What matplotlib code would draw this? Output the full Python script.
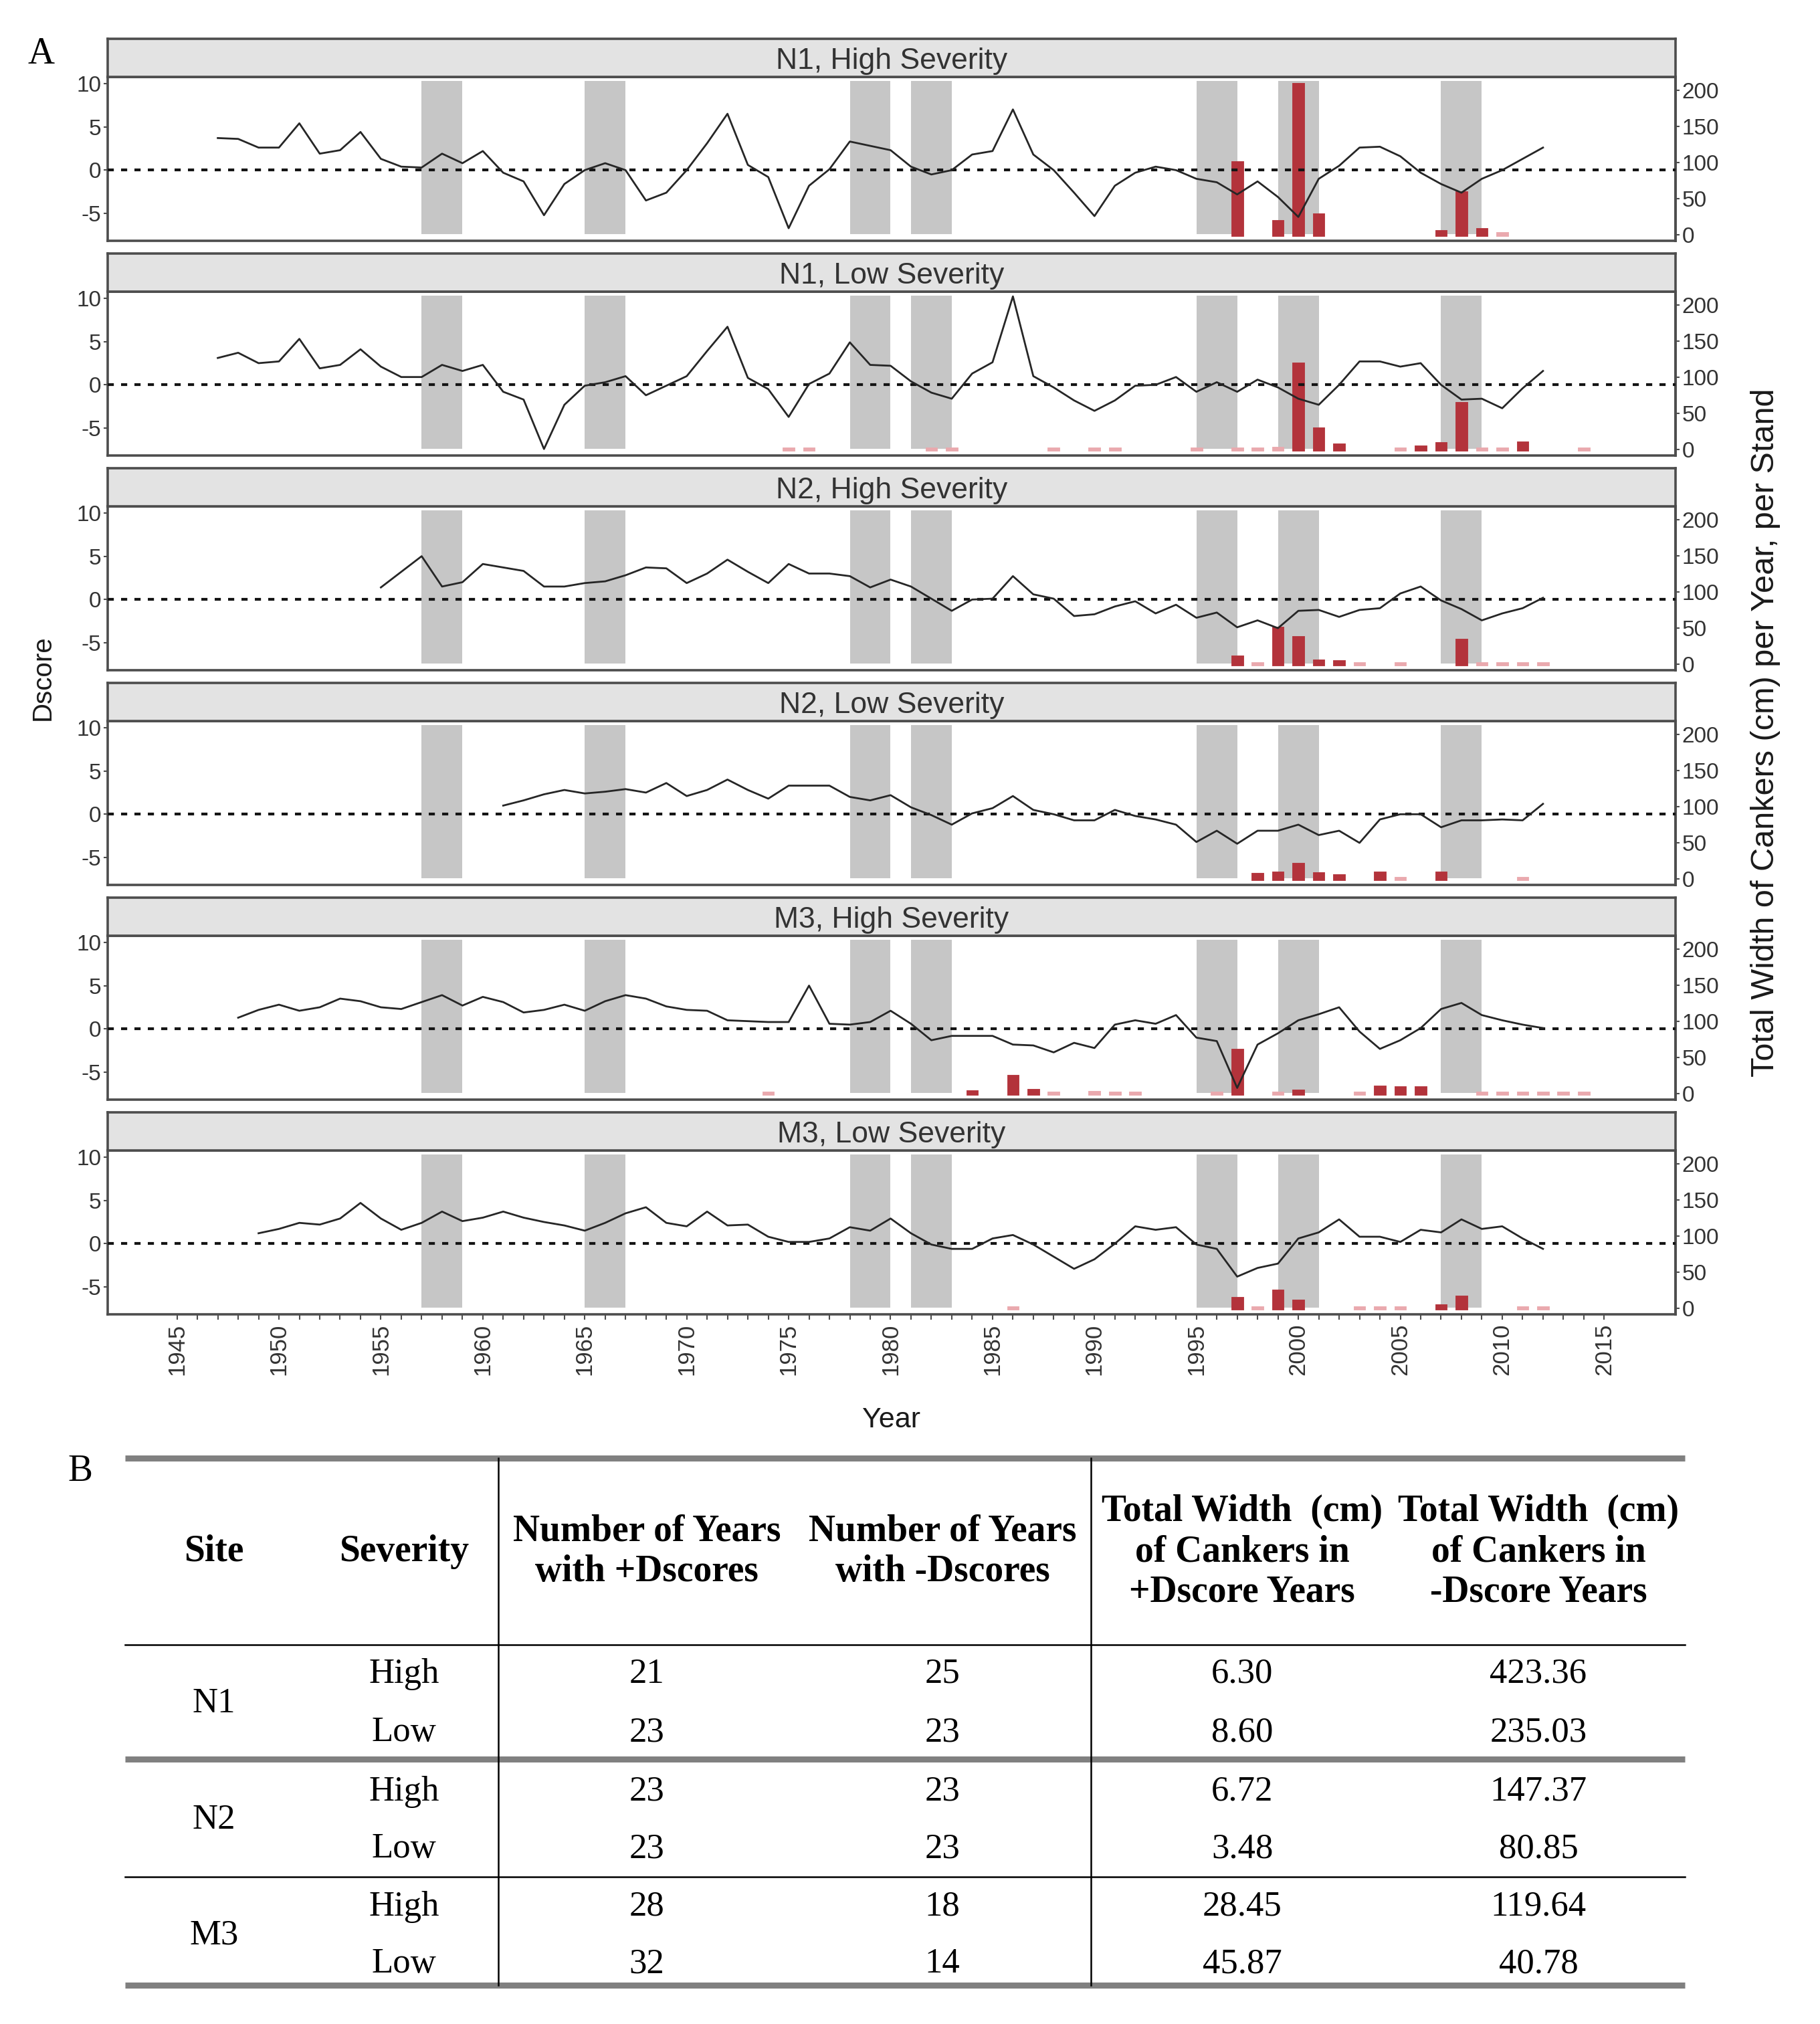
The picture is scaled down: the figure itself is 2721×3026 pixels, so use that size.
import numpy as np
import matplotlib
matplotlib.use("Agg")
import matplotlib.pyplot as plt

W, H = 2721, 3026
DPI = 100

# ---- Dscore series (one value per year, from the start year) ----
N1H_START = 1947
N1H_D = [3.7, 3.6, 2.6, 2.6, 5.4, 1.9, 2.3, 4.4, 1.3, 0.4, 0.3, 1.9, 0.8, 2.2,
         -0.3, -1.3, -5.2, -1.6, 0.0, 0.8, 0.0, -3.5, -2.6, 0.0, 3.1, 6.5, 0.6,
         -0.8, -6.7, -1.8, 0.1, 3.3, 2.8, 2.3, 0.4, -0.5, 0.0, 1.8, 2.2, 7.0, 1.8,
         0.0, -2.6, -5.3, -1.8, -0.3, 0.4, 0.0, -1.0, -1.4, -2.8, -1.3, -3.1, -5.4,
         -1.0, 0.5, 2.6, 2.7, 1.6, -0.3, -1.6, -2.6, -1.0, 0.0, 1.3, 2.6]

N1L_START = 1947
N1L_D = [3.1, 3.7, 2.5, 2.7, 5.3, 1.9, 2.3, 4.1, 2.1, 0.9, 0.9, 2.3, 1.6, 2.3,
         -0.8, -1.7, -7.4, -2.3, -0.1, 0.3, 1.0, -1.2, -0.1, 1.0, 3.9, 6.7, 0.8,
         -0.5, -3.7, 0.1, 1.3, 4.9, 2.3, 2.2, 0.4, -0.9, -1.6, 1.3, 2.6, 10.2, 1.0,
         -0.3, -1.8, -3.0, -1.8, -0.1, 0.0, 0.9, -0.8, 0.3, -0.8, 0.6, -0.3, -1.6,
         -2.3, 0.0, 2.7, 2.7, 2.1, 2.5, 0.0, -1.7, -1.6, -2.7, -0.4, 1.6]

N2H_START = 1955
N2H_D = [1.4, 3.2, 5.0, 1.5, 2.0, 4.1, 3.7, 3.3, 1.5, 1.5, 1.9, 2.1, 2.8, 3.7,
         3.6, 1.9, 3.0, 4.6, 3.2, 1.9, 4.1, 3.0, 3.0, 2.7, 1.4, 2.3, 1.5, 0.1,
         -1.3, 0.0, 0.1, 2.7, 0.6, 0.1, -1.9, -1.7, -0.8, -0.2, -1.6, -0.6, -2.1,
         -1.5, -3.2, -2.4, -3.3, -1.3, -1.2, -2.0, -1.2, -1.0, 0.7, 1.5, -0.1,
         -1.1, -2.4, -1.6, -1.0, 0.2]

N2L_START = 1961
N2L_D = [1.0, 1.6, 2.3, 2.8, 2.4, 2.6, 2.9, 2.5, 3.6, 2.1, 2.8, 4.0, 2.8, 1.8,
         3.3, 3.3, 3.3, 2.0, 1.6, 2.2, 0.8, -0.1, -1.2, 0.1, 0.7, 2.1, 0.5, 0.0,
         -0.7, -0.7, 0.5, -0.2, -0.6, -1.2, -3.2, -1.9, -3.4, -1.9, -1.9, -1.2,
         -2.4, -1.9, -3.3, -0.6, 0.0, 0.0, -1.5, -0.7, -0.7, -0.6, -0.7, 1.2]

M3H_START = 1948
M3H_D = [1.3, 2.2, 2.8, 2.1, 2.5, 3.5, 3.2, 2.5, 2.3, 3.1, 3.9, 2.7, 3.7, 3.1,
         1.9, 2.2, 2.8, 2.1, 3.2, 3.9, 3.5, 2.6, 2.2, 2.1, 1.0, 0.9, 0.8, 0.8,
         5.0, 0.6, 0.5, 0.8, 2.1, 0.6, -1.3, -0.8, -0.8, -0.8, -1.8, -1.9, -2.7,
         -1.6, -2.2, 0.5, 1.0, 0.6, 1.6, -1.0, -1.4, -6.8, -1.8, -0.5, 1.0, 1.7,
         2.5, -0.3, -2.3, -1.3, 0.1, 2.3, 3.0, 1.6, 1.0, 0.5, 0.1]

M3L_START = 1949
M3L_D = [1.2, 1.7, 2.4, 2.2, 2.9, 4.7, 2.9, 1.6, 2.4, 3.7, 2.6, 3.0, 3.7, 3.0,
         2.5, 2.1, 1.5, 2.4, 3.5, 4.2, 2.4, 2.0, 3.7, 2.1, 2.2, 0.8, 0.2, 0.2,
         0.6, 1.9, 1.5, 2.9, 1.2, -0.1, -0.6, -0.6, 0.6, 1.0, -0.1, -1.5, -2.9,
         -1.8, 0.0, 2.0, 1.6, 1.9, -0.1, -0.6, -3.8, -2.8, -2.3, 0.6, 1.3, 2.8,
         0.8, 0.8, 0.2, 1.6, 1.3, 2.8, 1.7, 2.0, 0.6, -0.6]

# ---- canker widths (cm) per year, per stand ----
N1H_BAR_YEARS = [1997, 1999, 2000, 2001, 2007, 2008, 2009, 2010]
N1H_BAR_CM = [100, 18, 208, 28, 5, 58, 7, 2]

N1L_BAR_YEARS = [1975, 1976, 1982, 1983, 1988, 1990, 1991, 1995, 1997, 1998,
                 1999, 2000, 2001, 2002, 2005, 2006, 2007, 2008, 2009, 2010,
                 2011, 2014]
N1L_BAR_CM = [1, 1, 1, 1, 1, 1, 1, 1, 1, 1, 1.5, 118, 29, 6, 1, 4, 8, 64, 1, 1, 9, 1]

N2H_BAR_YEARS = [1997, 1998, 1999, 2000, 2001, 2002, 2003, 2005, 2008, 2009,
                 2010, 2011, 2012]
N2H_BAR_CM = [10, 1, 50, 37, 5, 4, 1, 1, 33, 1, 1, 1, 1]

N2L_BAR_YEARS = [1998, 1999, 2000, 2001, 2002, 2004, 2005, 2007, 2011]
N2L_BAR_CM = [6, 8, 20, 7, 5, 8, 1, 8, 1]

M3H_BAR_YEARS = [1974, 1984, 1986, 1987, 1988, 1990, 1991, 1992, 1996, 1997,
                 1999, 2000, 2003, 2004, 2005, 2006, 2009, 2010, 2011, 2012,
                 2013, 2014]
M3H_BAR_CM = [1, 3, 24, 5, 1, 2, 1, 1, 1, 60, 1, 4, 1, 9, 8, 8, 1, 1, 1, 1, 1, 1]

M3L_BAR_YEARS = [1986, 1997, 1998, 1999, 2000, 2003, 2004, 2005, 2007, 2008,
                 2011, 2012]
M3L_BAR_CM = [1, 14, 1, 24, 10, 1, 1, 1, 4, 16, 1, 1]

PANEL_TITLES = ["N1, High Severity", "N1, Low Severity", "N2, High Severity",
                "N2, Low Severity", "M3, High Severity", "M3, Low Severity"]

# shaded years (start of each 2-year band)
SHADE_START = [1957, 1965, 1978, 1981, 1995, 1999, 2007]
SHADE_LEN = 2

# ---- table (part B) ----
TAB_SITES = ["N1", "N2", "M3"]
TAB_SEVERITY = ["High", "Low", "High", "Low", "High", "Low"]
TAB_POS_YEARS = [21, 23, 23, 23, 28, 32]
TAB_NEG_YEARS = [25, 23, 23, 23, 18, 14]
TAB_POS_WIDTH = [6.30, 8.60, 6.72, 3.48, 28.45, 45.87]
TAB_NEG_WIDTH = [423.36, 235.03, 147.37, 80.85, 119.64, 40.78]
TAB_HEADERS = ["Site", "Severity", "Number of Years\nwith +Dscores",
               "Number of Years\nwith -Dscores",
               "Total Width  (cm)\nof Cankers in\n+Dscore Years",
               "Total Width  (cm)\nof Cankers in\n-Dscore Years"]

BASE = -7.45     # Dscore level of the canker-width zero
SCALE = 12.0     # cm per Dscore unit
YLIM = (-8.15, 10.75)
XLIM = (1941.6, 2018.5)

SANS = ["Liberation Sans", "DejaVu Sans"]
SERIF = ["Liberation Serif", "DejaVu Serif"]
EDGE = "#4d4d4d"
TXT = "#333333"

panels = [
    (N1H_START, N1H_D, N1H_BAR_YEARS, N1H_BAR_CM),
    (N1L_START, N1L_D, N1L_BAR_YEARS, N1L_BAR_CM),
    (N2H_START, N2H_D, N2H_BAR_YEARS, N2H_BAR_CM),
    (N2L_START, N2L_D, N2L_BAR_YEARS, N2L_BAR_CM),
    (M3H_START, M3H_D, M3H_BAR_YEARS, M3H_BAR_CM),
    (M3L_START, M3L_D, M3L_BAR_YEARS, M3L_BAR_CM),
]

fig = plt.figure(figsize=(W / DPI, H / DPI), dpi=DPI, facecolor="white")

# overlay axes in pixel units for free text and the table
ov = fig.add_axes([0, 0, 1, 1], zorder=-5)
ov.set_xlim(0, W)
ov.set_ylim(H, 0)
ov.axis("off")

X0, X1 = 161, 2505
STRIP_H, PANEL_H, STEP, TOP0 = 57, 245, 321, 115

for k, (start, dvals, byears, bcm) in enumerate(panels):
    top = TOP0 + STEP * k
    bot = top + PANEL_H
    ax = fig.add_axes([X0 / W, 1 - bot / H, (X1 - X0) / W, PANEL_H / H])
    st = fig.add_axes([X0 / W, 1 - top / H, (X1 - X0) / W, STRIP_H / H])

    # strip
    st.set_facecolor("#e3e3e3")
    st.set_xticks([])
    st.set_yticks([])
    for s in st.spines.values():
        s.set_color(EDGE)
        s.set_linewidth(2.6)
    st.text(0.5, 0.42, PANEL_TITLES[k], transform=st.transAxes, ha="center",
            va="center", fontsize=32, color=TXT, family=SANS)

    # shaded bands
    ax.bar(SHADE_START, 10.3 - (-7.4), width=SHADE_LEN, bottom=-7.4,
           align="edge", color="#c6c6c6", linewidth=0, zorder=1)

    # canker bars
    bcm = np.array(bcm, dtype=float)
    cols = np.where(bcm < 3, "#eaa9ae", "#b3333b")
    ax.bar(byears, bcm / SCALE, bottom=BASE, width=0.45, color=cols,
           edgecolor=cols, linewidth=3.5, zorder=2)

    ax.axhline(0, color="#141414", lw=3.0, ls=(0, (2.2, 2.6)), zorder=3)

    years = np.arange(start, start + len(dvals))
    ax.plot(years, dvals, color="#262626", lw=2.0, zorder=4)

    ax.set_xlim(*XLIM)
    ax.set_ylim(*YLIM)
    ax.set_yticks([-5, 0, 5, 10])
    ax.set_yticklabels(["-5", "0", "5", "10"], family=SANS)
    for s in ax.spines.values():
        s.set_color(EDGE)
        s.set_linewidth(2.6)
    ax.tick_params(axis="y", labelsize=24, labelcolor=TXT, color=EDGE,
                   length=4, width=1.5, pad=3)

    sec = ax.secondary_yaxis("right", functions=(lambda d: (d - BASE) * SCALE,
                                                  lambda w: w / SCALE + BASE))
    sec.set_yticks([0, 50, 100, 150, 200])
    sec.set_yticklabels(["0", "50", "100", "150", "200"], family=SANS)
    sec.tick_params(labelsize=24, labelcolor=TXT, color=EDGE, length=4,
                    width=1.5, pad=3)
    sec.spines["right"].set_color(EDGE)
    sec.spines["right"].set_linewidth(2.6)

    if k == len(panels) - 1:
        yrs = np.arange(1945, 2016)
        ax.set_xticks(yrs)
        ax.set_xticklabels([str(y) if y % 5 == 0 else "" for y in yrs],
                           rotation=90, family=SANS)
        ax.tick_params(axis="x", labelsize=25, labelcolor=TXT, color=EDGE,
                       length=6, width=1.5, pad=4)
    else:
        ax.set_xticks([])

# axis titles and panel tags
ov.text(1333, 2123, "Year", ha="center", va="center", fontsize=31,
        color="#1a1a1a", family=SANS)
ov.text(64, 1013, "Dscore", ha="center", va="center", rotation=90,
        fontsize=29, color="#1a1a1a", family=SANS)
ov.text(2640, 1095, "Total Width of Cankers (cm) per Year, per Stand",
        ha="center", va="center", rotation=90, fontsize=35, color="#1a1a1a",
        family=SANS)
ov.text(62, 81, "A", ha="center", va="center", fontsize=40, family=SERIF)
ov.text(120, 2200, "B", ha="center", va="center", fontsize=40, family=SERIF)

# ---- table B ----
TX0, TX1 = 187, 2519
TY0, TY1 = 2180, 2968
col_x = [320, 604, 967, 1409, 1857, 2300]
row_y = [2503, 2590, 2679, 2764, 2851, 2936]

for yy in (TY0, 2630, TY1):
    ov.plot([TX0, TX1], [yy, yy], color="#808080", lw=6.5,
            solid_capstyle="butt")
for yy in (2459, 2806):
    ov.plot([TX0, TX1], [yy, yy], color="black", lw=1.8)
for xx in (745, 1631):
    ov.plot([xx, xx], [TY0, TY1], color="black", lw=1.8)

for cx, hd in zip(col_x, TAB_HEADERS):
    ov.text(cx, 2320, hd, ha="center", va="center", fontsize=40,
            fontweight="bold", family=SERIF, linespacing=1.2)

for i, site in enumerate(TAB_SITES):
    ov.text(col_x[0], (row_y[2 * i] + row_y[2 * i + 1]) / 2, site,
            ha="center", va="center", fontsize=38, family=SERIF)

for i in range(len(TAB_SEVERITY)):
    cells = [TAB_SEVERITY[i], str(TAB_POS_YEARS[i]), str(TAB_NEG_YEARS[i]),
             f"{TAB_POS_WIDTH[i]:.2f}", f"{TAB_NEG_WIDTH[i]:.2f}"]
    for cx, c in zip(col_x[1:], cells):
        ov.text(cx, row_y[i], c, ha="center", va="center", fontsize=38,
                family=SERIF)

fig.savefig("out.png", dpi=DPI, facecolor="white")
